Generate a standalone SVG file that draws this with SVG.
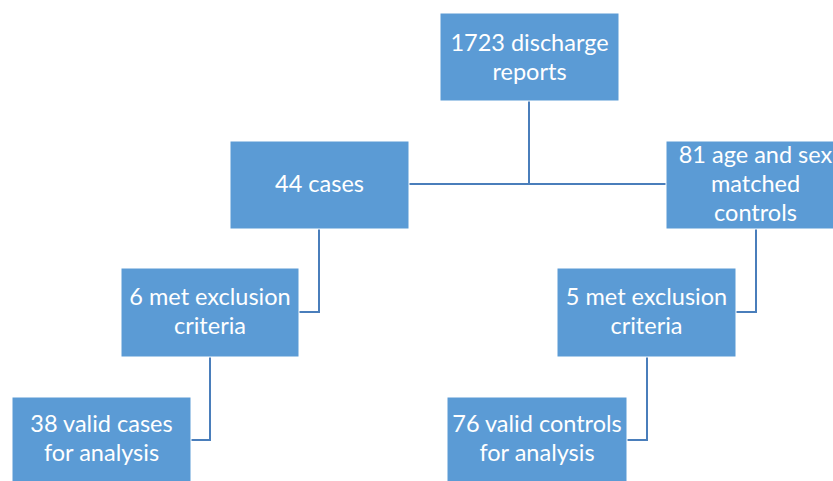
<svg xmlns="http://www.w3.org/2000/svg" width="833" height="481" viewBox="0 0 833 481">
<style>
.box{fill:#5b9bd5;stroke:#ffffff;stroke-width:1}
.t{font-family:Lato,"Open Sans","Liberation Sans",sans-serif;font-size:23.5px;fill:#ffffff;text-anchor:middle}
.c{fill:none;stroke:#4a7ebb;stroke-width:2}
</style>
<rect width="833" height="481" fill="#ffffff"/>
<g id="connectors">
<path class="c" d="M529,101 V184 M409,184 H666"/>
<path class="c" d="M319,229 V312 H299"/>
<path class="c" d="M756,229 V312 H736"/>
<path class="c" d="M210,357 V440 H191"/>
<path class="c" d="M647,357 V440 H627"/>
</g>
<g id="n1"><rect class="box" x="440" y="13" width="179" height="88"/><text class="t" x="529.5" y="51">1723 discharge</text><text class="t" x="529.5" y="80">reports</text></g>
<g id="n2"><rect class="box" x="230" y="141" width="179" height="88"/><text class="t" x="319.5" y="192">44 cases</text></g>
<g id="n3"><rect class="box" x="666" y="141" width="179" height="88"/><text class="t" x="755.5" y="163">81 age and sex</text><text class="t" x="755.5" y="192">matched</text><text class="t" x="755.5" y="221">controls</text></g>
<g id="n4"><rect class="box" x="121" y="268" width="178" height="89"/><text class="t" x="210" y="305">6 met exclusion</text><text class="t" x="210" y="334">criteria</text></g>
<g id="n5"><rect class="box" x="557" y="268" width="179" height="89"/><text class="t" x="646.5" y="305">5 met exclusion</text><text class="t" x="646.5" y="334">criteria</text></g>
<g id="n6"><rect class="box" x="12" y="397" width="179" height="88"/><text class="t" x="101.5" y="432">38 valid cases</text><text class="t" x="101.5" y="461">for analysis</text></g>
<g id="n7"><rect class="box" x="447" y="397" width="180" height="88"/><text class="t" x="537" y="432">76 valid controls</text><text class="t" x="537" y="461">for analysis</text></g>
</svg>
